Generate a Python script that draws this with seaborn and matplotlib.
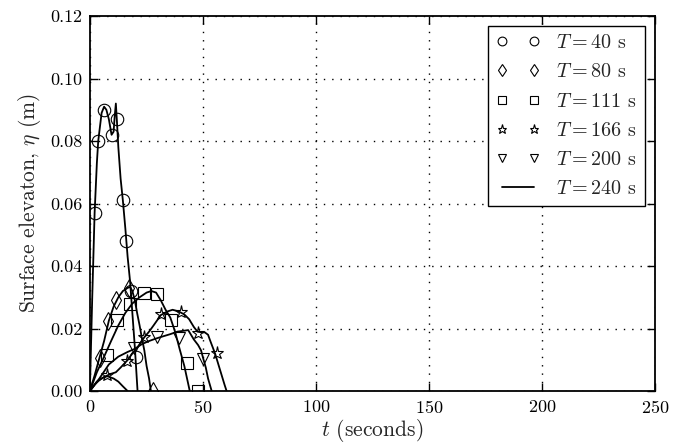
import matplotlib
matplotlib.use("Agg")
import matplotlib.pyplot as plt
import seaborn as sns

# Simulated free-surface elevation (lines) for each wave period T
t_40 = [0, 1.05, 2.1, 3.1, 3.7, 5.2, 6.3, 7.3, 8.4, 9.6, 10.5, 11.0, 11.5, 12.0, 12.6, 13.6,
        14.6, 15.7, 16.7, 17.8, 18.8, 19.9, 21.1]
eta_40 = [0, 0.030, 0.057, 0.073, 0.080, 0.089, 0.091, 0.090, 0.087, 0.082, 0.083, 0.088, 0.092,
          0.086, 0.078, 0.068, 0.061, 0.052, 0.043, 0.035, 0.025, 0.014, 0.0]

t_80 = [0, 2.1, 4.2, 6.3, 8.4, 10.5, 12.6, 14.6, 16.7, 17.8, 18.8, 19.9, 20.9, 22.0, 23.0,
        24.1, 25.1, 26.2, 27.0]
eta_80 = [0, 0.005, 0.0105, 0.016, 0.0225, 0.027, 0.030, 0.032, 0.033, 0.0333, 0.032, 0.029,
          0.025, 0.021, 0.017, 0.013, 0.008, 0.004, 0.0]

t_111 = [0, 3.1, 6.3, 9.4, 12.6, 15.7, 18.8, 22.0, 25.1, 27.2, 29.3, 31.4, 33.5, 35.6, 37.7,
         39.7, 41.8, 44.2]
eta_111 = [0, 0.006, 0.011, 0.016, 0.021, 0.025, 0.028, 0.030, 0.0315, 0.032, 0.0315, 0.029,
           0.026, 0.0235, 0.019, 0.0135, 0.008, 0.0]

t_166 = [0, 3.1, 5.2, 7.8, 9.4, 11.5, 13.6, 16.7, 18.8, 20.9, 24.1, 26.2, 28.2, 31.4, 34.5,
         36.6, 39.2, 41.8, 43.9, 46.0, 47.6, 49.2, 50.8, 52.3, 53.3, 55.4, 57.5, 59.6, 60.5]
eta_166 = [0, 0.003, 0.004, 0.005, 0.0055, 0.006, 0.0075, 0.0099, 0.012, 0.0138, 0.0172, 0.019,
           0.021, 0.0243, 0.0255, 0.026, 0.0255, 0.0245, 0.023, 0.0205, 0.019, 0.0188, 0.0188,
           0.018, 0.016, 0.012, 0.007, 0.002, 0.0]

t_200 = [0, 4.2, 8.4, 12.6, 16.7, 19.9, 23.0, 26.2, 29.3, 32.4, 35.6, 38.7, 41.8, 43.5, 46.0,
         47.9, 49.2, 50.2, 51.3, 52.3, 53.9]
eta_200 = [0, 0.004, 0.0085, 0.011, 0.0125, 0.0135, 0.015, 0.016, 0.0168, 0.0175, 0.0182,
           0.019, 0.0193, 0.0195, 0.0165, 0.0147, 0.013, 0.0103, 0.0075, 0.004, 0.0]

t_240 = [0, 2.1, 4.2, 6.3, 7.8, 10.5, 12.6, 14.6, 16.7]
eta_240 = [0, 0.002, 0.0035, 0.0045, 0.0047, 0.004, 0.003, 0.0015, 0.0]

# Measured elevation (markers)
obs_t_40 = [2.2, 3.7, 6.4, 9.6, 12.1, 14.7, 16.2, 18.4, 20.3]
obs_eta_40 = [0.057, 0.080, 0.090, 0.082, 0.087, 0.061, 0.048, 0.032, 0.011]

obs_t_80 = [4.4, 8.2, 11.7, 17.4, 27.9]
obs_eta_80 = [0.0105, 0.0225, 0.029, 0.033, 0.0]

obs_t_111 = [7.5, 11.8, 17.7, 24.1, 29.9, 36.1, 42.9, 47.9]
obs_eta_111 = [0.0115, 0.0227, 0.028, 0.0313, 0.031, 0.0227, 0.009, 0.0]

obs_t_166 = [7.6, 16.5, 24.1, 31.6, 40.2, 47.9, 56.1]
obs_eta_166 = [0.005, 0.0095, 0.0174, 0.0246, 0.0254, 0.0187, 0.0123]

obs_t_200 = [19.7, 29.6, 39.5, 50.0]
obs_eta_200 = [0.0137, 0.0172, 0.017, 0.0102]

periods = ["40", "80", "111", "166", "200"]
markers = ["o", "d", "s", "*", "v"]
marker_sizes = [9, 9, 9, 9.5, 9]

x_ticks = [0, 50, 100, 150, 200, 250]
y_ticks = [0.00, 0.02, 0.04, 0.06, 0.08, 0.10, 0.12]

sns.set_style("ticks")
plt.rcParams.update({
    "font.family": "serif",
    "font.serif": ["cmr10", "DejaVu Serif"],
    "mathtext.fontset": "cm",
    "axes.formatter.use_mathtext": True,
    "axes.unicode_minus": False,
})

fig = plt.figure(figsize=(6.86, 4.46), dpi=100)
ax = fig.add_axes([0.131, 0.1233, 0.8236, 0.8407])

sim = [(t_40, eta_40), (t_80, eta_80), (t_111, eta_111), (t_166, eta_166), (t_200, eta_200)]
obs = [(obs_t_40, obs_eta_40), (obs_t_80, obs_eta_80), (obs_t_111, obs_eta_111),
       (obs_t_166, obs_eta_166), (obs_t_200, obs_eta_200)]

for t, eta in sim:
    sns.lineplot(x=t, y=eta, ax=ax, color="black", lw=1.3, sort=False, estimator=None)

line_240 = sns.lineplot(x=t_240, y=eta_240, ax=ax, color="black", lw=1.3,
                        sort=False, estimator=None).lines[-1]

handles = []
for (t, eta), p, m, ms in zip(obs, periods, markers, marker_sizes):
    h, = ax.plot(t, eta, linestyle="none", marker=m, markersize=ms,
                 markerfacecolor="none", markeredgecolor="black",
                 markeredgewidth=0.8, label=rf"$T = {p}$ s")
    handles.append(h)

line_240.set_label(r"$T = 240$ s")
handles.append(line_240)

ax.set_xlim(0, 250)
ax.set_ylim(0, 0.12)
ax.set_xticks(x_ticks)
ax.set_yticks(y_ticks)
ax.set_yticklabels([f"{v:.2f}" for v in y_ticks])

ax.grid(True, color="black", linestyle=(0, (1, 5)), linewidth=1.0)
ax.tick_params(direction="in", top=True, right=True, length=6, width=1.0,
               labelsize=13, pad=5.5, colors="black")
for s in ax.spines.values():
    s.set_visible(True)
    s.set_linewidth(1.3)
    s.set_color("black")

ax.set_xlabel(r"$t$ (seconds)", fontsize=15.5, labelpad=1)
ax.set_ylabel(r"Surface elevaton, $\eta$ (m)", fontsize=15.5, labelpad=5)

leg = ax.legend(handles=handles, loc="upper right", numpoints=2, fontsize=14.5,
                frameon=True, fancybox=False, edgecolor="black", framealpha=1,
                borderaxespad=0.5, handlelength=2.2, labelspacing=0.55,
                handletextpad=0.8, borderpad=0.4, markerscale=0.7)
leg.get_frame().set_linewidth(1.0)

fig.savefig("out.png", dpi=100)
